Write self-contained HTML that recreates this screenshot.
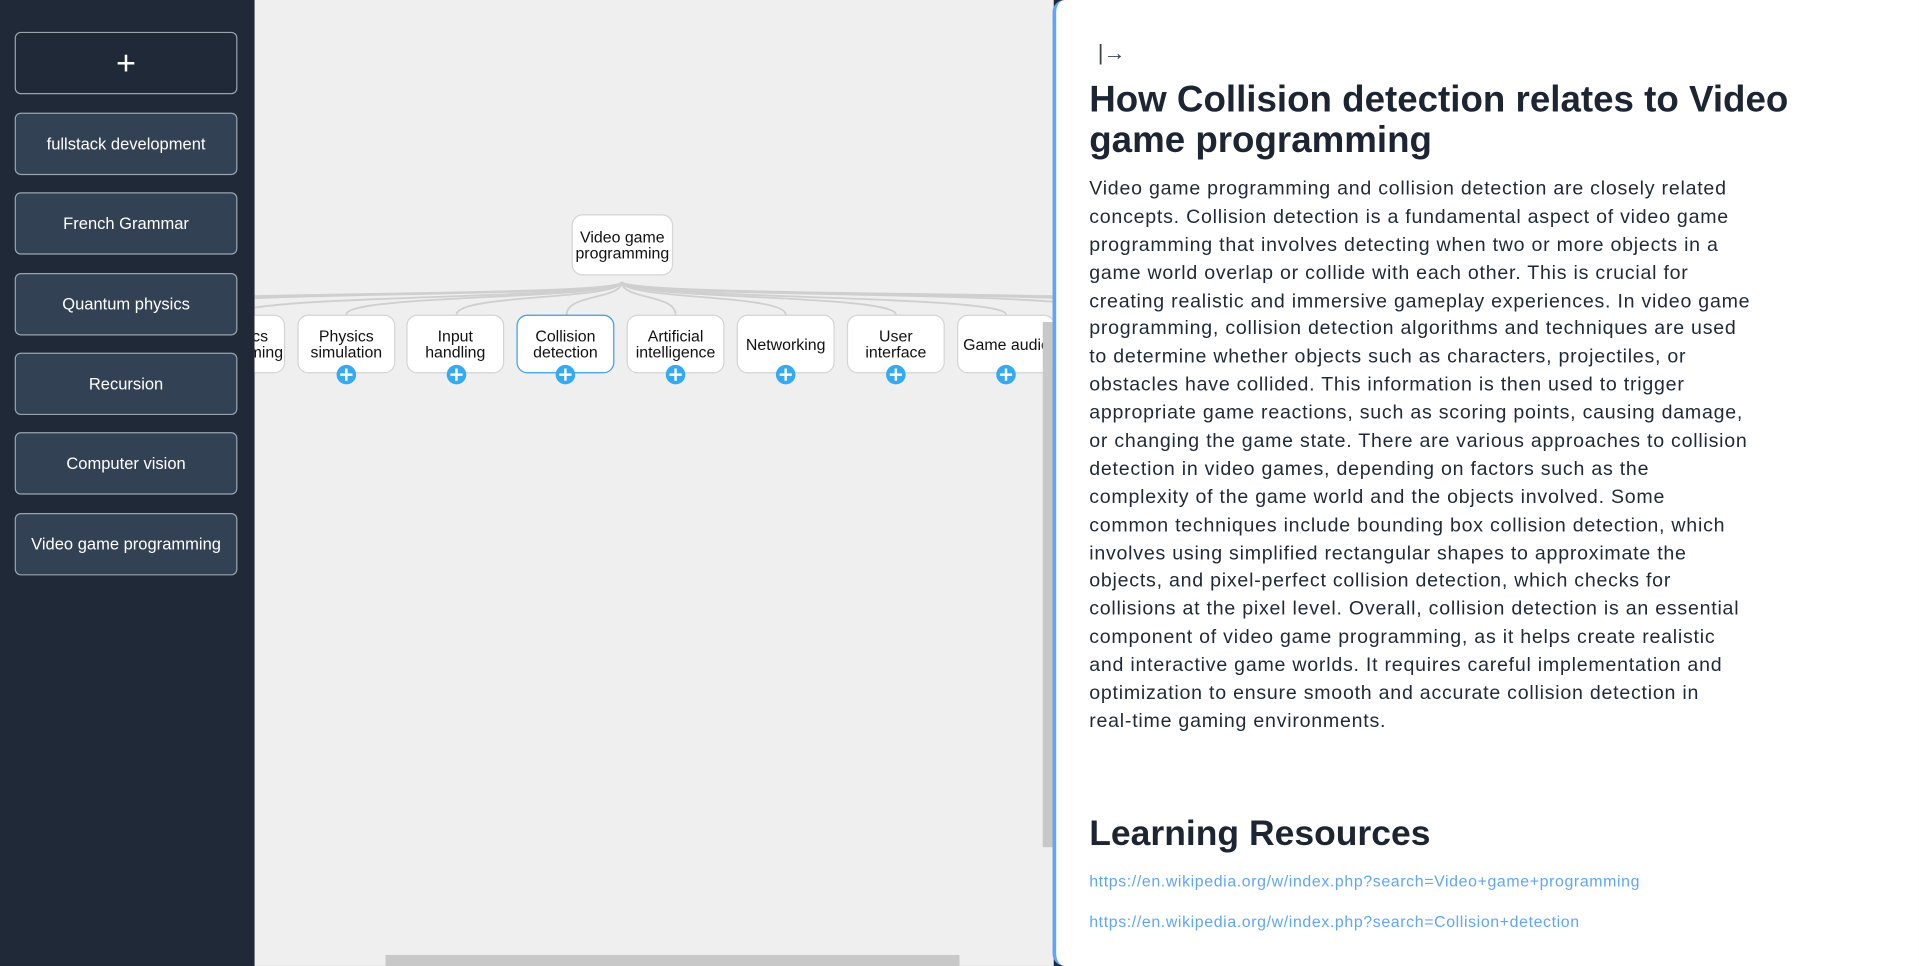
<!DOCTYPE html>
<html><head><meta charset="utf-8"><style>
html,body{margin:0;padding:0;width:1919px;height:966px;overflow:hidden;background:#1f2937;font-family:"Liberation Sans",sans-serif}
#w{position:absolute;left:0;top:0;width:1568px;height:789px;transform:scale(1.22385,1.2243);transform-origin:0 0}
.sb{position:absolute;left:0;top:0;width:208px;height:789px;background:#1f2937}
.btn{position:absolute;left:12px;width:180px;height:49px;border:1px solid #9aa3ad;border-radius:5px;background:#334155;color:#fff;font-size:13.5px;display:flex;align-items:center;justify-content:center;box-sizing:content-box}
.cv{position:absolute;left:208px;top:0;width:653px;height:789px;background:#efefef;overflow:hidden}
.node{position:absolute;width:80px;height:48px;background:#fff;border:1.5px solid #d4d4d4;border-radius:9px;font-size:13px;line-height:13px;color:#111;display:flex;align-items:center;justify-content:center;text-align:center;box-sizing:border-box;white-space:nowrap}
.plus{position:absolute;width:16px;height:16px;border-radius:50%;background:#35aaf0}
.plus:before{content:"";position:absolute;left:3px;top:7px;width:10px;height:2px;background:#fff}
.plus:after{content:"";position:absolute;left:7px;top:3px;width:2px;height:10px;background:#fff}
.rp{position:absolute;left:860px;top:0;width:708px;height:789px;background:#fff;border-left:3px solid #60a5fa;border-radius:10px 0 0 10px;box-sizing:border-box}
.t{position:absolute;left:27px;color:#1e2532;white-space:nowrap}
.body div{height:22.9px;line-height:22.9px;font-size:16px;letter-spacing:0.62px;color:#1f2937;white-space:nowrap}
a{color:#60a5fa;text-decoration:none;font-size:13px;letter-spacing:0.5px}
</style></head><body><div id="w">
<div class="sb">
<div class="btn" style="top:26px;background:#1f2937;font-size:28px;font-weight:300">+</div>
<div class="btn" style="top:92px">fullstack development</div>
<div class="btn" style="top:157px">French Grammar</div>
<div class="btn" style="top:223px">Quantum physics</div>
<div class="btn" style="top:288px">Recursion</div>
<div class="btn" style="top:353px">Computer vision</div>
<div class="btn" style="top:419px">Video game programming</div>
</div>
<div class="cv">
<svg width="653" height="789" style="position:absolute;left:0;top:0" fill="none" stroke="#cfcfcf" stroke-width="1.5">
<path d="M300,230 C300,245 -200,235 -200,257"/>
<path d="M300,230 C300,245 -110,235 -110,257"/>
<path d="M300,230 C300,245 -15,240 -15,257"/>
<path d="M300,230 C300,245 75,240 75,257"/>
<path d="M300,230 C300,245 165,240 165,257"/>
<path d="M300,230 C300,245 255,240 255,257"/>
<path d="M300,230 C300,245 344,240 344,257"/>
<path d="M300,230 C300,245 434,240 434,257"/>
<path d="M300,230 C300,245 524,240 524,257"/>
<path d="M300,230 C300,245 614,240 614,257"/>
<path d="M300,230 C300,245 704,235 704,257"/>
<path d="M300,230 C300,245 794,235 794,257"/>
<path d="M300,230 C300,245 884,235 884,257"/>
</svg>
<div class="node" style="left:259px;top:175px;width:83px;height:50px">Video game<br>programming</div>
<div class="node" style="left:-55px;top:257px">Graphics<br>programming</div>
<div class="node" style="left:35px;top:257px">Physics<br>simulation</div>
<div class="node" style="left:124px;top:257px">Input<br>handling</div>
<div class="node" style="left:214px;top:257px;border-color:#3b9cf0">Collision<br>detection</div>
<div class="node" style="left:304px;top:257px">Artificial<br>intelligence</div>
<div class="node" style="left:394px;top:257px">Networking</div>
<div class="node" style="left:484px;top:257px">User<br>interface</div>
<div class="node" style="left:574px;top:257px;justify-content:flex-start;padding-left:4px">Game audio</div>
<div class="plus" style="left:67px;top:298px"></div>
<div class="plus" style="left:157px;top:298px"></div>
<div class="plus" style="left:246px;top:298px"></div>
<div class="plus" style="left:336px;top:298px"></div>
<div class="plus" style="left:426px;top:298px"></div>
<div class="plus" style="left:516px;top:298px"></div>
<div class="plus" style="left:606px;top:298px"></div>
<div style="position:absolute;left:644px;top:263px;width:8px;height:429px;background:#c8c8c8"></div>
<div style="position:absolute;left:107px;top:780px;width:469px;height:9px;background:#c8c8c8"></div>
</div>
<div class="rp">
<div class="t" style="top:33px;font-size:18px;left:34px;color:#374151">|→</div>
<div class="t" style="top:65px;font-size:30px;font-weight:bold;line-height:33px">How Collision detection relates to Video<br>game programming</div>
<div class="t body" style="top:144px">
<div>Video game programming and collision detection are closely related</div>
<div>concepts. Collision detection is a fundamental aspect of video game</div>
<div>programming that involves detecting when two or more objects in a</div>
<div>game world overlap or collide with each other. This is crucial for</div>
<div>creating realistic and immersive gameplay experiences. In video game</div>
<div>programming, collision detection algorithms and techniques are used</div>
<div>to determine whether objects such as characters, projectiles, or</div>
<div>obstacles have collided. This information is then used to trigger</div>
<div>appropriate game reactions, such as scoring points, causing damage,</div>
<div>or changing the game state. There are various approaches to collision</div>
<div>detection in video games, depending on factors such as the</div>
<div>complexity of the game world and the objects involved. Some</div>
<div>common techniques include bounding box collision detection, which</div>
<div>involves using simplified rectangular shapes to approximate the</div>
<div>objects, and pixel-perfect collision detection, which checks for</div>
<div>collisions at the pixel level. Overall, collision detection is an essential</div>
<div>component of video game programming, as it helps create realistic</div>
<div>and interactive game worlds. It requires careful implementation and</div>
<div>optimization to ensure smooth and accurate collision detection in</div>
<div>real-time gaming environments.</div>
</div>
<div class="t" style="top:665px;font-size:29px;font-weight:bold">Learning Resources</div>
<div class="t" style="top:711px"><a>https://en.wikipedia.org/w/index.php?search=Video+game+programming</a></div>
<div class="t" style="top:744px"><a>https://en.wikipedia.org/w/index.php?search=Collision+detection</a></div>
</div>
</div></body></html>
